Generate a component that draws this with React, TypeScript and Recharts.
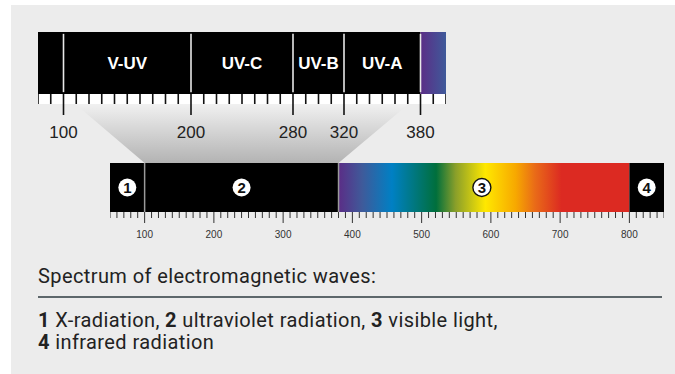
import React from 'react';
import {
  ComposedChart,
  XAxis,
  YAxis,
  ReferenceArea,
  ReferenceLine,
  Scatter,
} from 'recharts';

// Zoomed UV scale (nm)
const uvDomain = [80, 400];
const uvTicks = [80, 90, 100, 110, 120, 130, 140, 150, 160, 170, 180, 190, 200, 210, 220, 230, 240, 250, 260, 270, 280, 290, 300, 310, 320, 330, 340, 350, 360, 370, 380, 390, 400];
const uvLabelTicks = [100, 200, 280, 320, 380];
const uvBands = [
  { name: 'V-UV', from: 100, to: 200 },
  { name: 'UV-C', from: 200, to: 280 },
  { name: 'UV-B', from: 280, to: 320 },
  { name: 'UV-A', from: 320, to: 380 },
];
const uvVisibleEdge = [380, 400];

// Full spectrum scale (nm)
const fullDomain = [50, 850];
const fullLabelTicks = [100, 200, 300, 400, 500, 600, 700, 800];
const regions = [
  { id: 1, from: 50, to: 100, mid: 75 },
  { id: 2, from: 100, to: 380, mid: 240 },
  { id: 3, from: 380, to: 800, mid: 587 },
  { id: 4, from: 800, to: 850, mid: 825 },
];
const regionBorders = [100, 380];
const zoomRange = [100, 380];

// visible light gradient stops
const spectrumNm = [380, 414, 457, 521, 549, 592, 636, 664, 702, 800];
const spectrumColors = ['#5b2d86', '#3f5a9a', '#0080c4', '#006f3c', '#8a9f2a', '#ffe800', '#f7a800', '#e96a18', '#dc2a22', '#dc2a22'];

// layout (px)
const TOP = { left: 38, top: 32, width: 408, bar: 62, axis: 69 };
const BOT = { left: 110, top: 163, width: 554, bar: 49, axis: 31 };

const fullTicks: number[] = [];
for (let v = fullDomain[0]; v <= fullDomain[1]; v += 10) fullTicks.push(v);

const SANS = '"Liberation Sans", Arial, sans-serif';

// same linear mapping recharts uses for the lower axis, relative to the top chart
const fullScaleX = (v: number) =>
  BOT.left + ((v - fullDomain[0]) / (fullDomain[1] - fullDomain[0])) * BOT.width - TOP.left;

const UvTick = (props: any) => {
  const { x, y, payload } = props;
  const major = uvLabelTicks.includes(payload.value);
  return (
    <g>
      <line x1={x} x2={x} y1={y} y2={y + (major ? 21 : 10)} stroke="#111" strokeWidth={1.6} />
      {major && (
        <text x={x} y={y + 44} textAnchor="middle" fontSize={17} fill="#222" fontFamily={SANS}>
          {payload.value}
        </text>
      )}
    </g>
  );
};

const FullTick = (props: any) => {
  const { x, y, payload } = props;
  const major = fullLabelTicks.includes(payload.value);
  return (
    <g>
      <line x1={x} x2={x} y1={y} y2={y + (major ? 11 : 6)} stroke="#333" strokeWidth={1} />
      {major && (
        <text x={x} y={y + 26} textAnchor="middle" fontSize={10} fill="#333" fontFamily={SANS}>
          {payload.value}
        </text>
      )}
    </g>
  );
};

// connector from the zoomed scale down to the full scale
const Connector = (props: any) => {
  const { x, y, width, height } = props;
  const yt = y + height;
  const yb = yt + TOP.axis;
  const pts = [
    [x, yt],
    [x + width, yt],
    [fullScaleX(zoomRange[1]), yb],
    [fullScaleX(zoomRange[0]), yb],
  ]
    .map((p) => p.join(','))
    .join(' ');
  return <polygon points={pts} fill="url(#connFade)" />;
};

const TickStrip = (props: any) => {
  const { x, y, width, height } = props;
  return <rect x={x} y={y + height} width={width} height={10} fill="#ffffff" />;
};

const RegionMarker = (props: any) => {
  const { cx, cy, payload } = props;
  return (
    <g>
      <circle cx={cx} cy={cy} r={9} fill="#fff" stroke={payload.id === 3 ? '#111' : 'none'} strokeWidth={1.4} />
      <text x={cx} y={cy + 5.5} textAnchor="middle" fontSize={15} fontWeight={700} fill="#111" fontFamily={SANS}>
        {payload.id}
      </text>
    </g>
  );
};

const markerData = regions.map((r) => ({ x: r.mid, y: 0.5, id: r.id }));
const uvBandData = uvBands.map((b) => ({ x: (b.from + b.to) / 2, y: 0.5, name: b.name }));

export default function App() {
  return (
    <div style={{ position: 'relative', width: 675, height: 374, background: '#fff', overflow: 'hidden' }}>
      <style>{'body{margin:0}'}</style>
      <div style={{ position: 'absolute', left: 11, top: 5, width: 664, height: 369, background: '#ececec' }} />

      <div style={{ position: 'absolute', left: TOP.left, top: TOP.top }}>
        <ComposedChart width={TOP.width} height={TOP.bar + TOP.axis} data={uvBandData} margin={{ top: 0, right: 0, bottom: 0, left: 0 }} style={{ overflow: 'visible' }}>
          <defs>
            <linearGradient id="connFade" x1="0" y1="0" x2="0" y2="1">
              <stop offset="0%" stopColor="#fbfbfb" />
              <stop offset="100%" stopColor="#b3b3b3" />
            </linearGradient>
            <linearGradient id="uvEdge" x1="0" y1="0" x2="1" y2="0">
              <stop offset="0%" stopColor="#5b2d86" />
              <stop offset="100%" stopColor="#3f5a9a" />
            </linearGradient>
          </defs>
          <XAxis
            type="number"
            dataKey="x"
            domain={uvDomain}
            ticks={uvTicks}
            interval={0}
            height={TOP.axis}
            axisLine={false}
            tickLine={false}
            tickSize={0}
            tickMargin={0}
            tick={<UvTick />}
          />
          <YAxis type="number" dataKey="y" domain={[0, 1]} hide />
          <ReferenceArea x1={zoomRange[0]} x2={zoomRange[1]} y1={0} y2={1} shape={<Connector />} />
          <ReferenceArea x1={uvDomain[0]} x2={uvDomain[1]} y1={0} y2={1} shape={<TickStrip />} />
          <ReferenceArea x1={uvDomain[0]} x2={uvVisibleEdge[0]} y1={0} y2={1} fill="#000" fillOpacity={1} />
          <ReferenceArea x1={uvVisibleEdge[0]} x2={uvVisibleEdge[1]} y1={0} y2={1} fill="url(#uvEdge)" fillOpacity={1} />
          {uvBands.map((b) => (
            <ReferenceArea
              key={b.name}
              x1={b.from}
              x2={b.to}
              y1={0}
              y2={1}
              fillOpacity={0}
              label={{ value: b.name, position: 'center', fill: '#fff', fontSize: 17, fontWeight: 700, fontFamily: SANS }}
            />
          ))}
          {uvLabelTicks.map((v) => (
            <ReferenceLine
              key={v}
              segment={[{ x: v, y: 0.03 }, { x: v, y: 0.97 }]}
              stroke="#e8e8e8"
              strokeWidth={1.6}
            />
          ))}
        </ComposedChart>
      </div>

      <div style={{ position: 'absolute', left: BOT.left, top: BOT.top }}>
        <ComposedChart width={BOT.width} height={BOT.bar + BOT.axis} data={markerData} margin={{ top: 0, right: 0, bottom: 0, left: 0 }}>
          <defs>
            <linearGradient id="spectrum" x1="0" y1="0" x2="1" y2="0">
              {spectrumNm.map((nm, i) => (
                <stop key={nm} offset={`${((nm - 380) / (800 - 380)) * 100}%`} stopColor={spectrumColors[i]} />
              ))}
            </linearGradient>
          </defs>
          <XAxis
            type="number"
            dataKey="x"
            domain={fullDomain}
            ticks={fullTicks}
            interval={0}
            height={BOT.axis}
            axisLine={false}
            tickLine={false}
            tickSize={0}
            tickMargin={0}
            tick={<FullTick />}
          />
          <YAxis type="number" dataKey="y" domain={[0, 1]} hide />
          {regions.map((r) => (
            <ReferenceArea
              key={r.id}
              x1={r.from}
              x2={r.to}
              y1={0}
              y2={1}
              fill={r.id === 3 ? 'url(#spectrum)' : '#000'}
              fillOpacity={1}
            />
          ))}
          {regionBorders.map((v) => (
            <ReferenceLine key={v} x={v} stroke="#9a9a9a" strokeWidth={1.5} />
          ))}
          <Scatter data={markerData} dataKey="y" shape={<RegionMarker />} isAnimationActive={false} />
        </ComposedChart>
      </div>

      <div style={{ position: 'absolute', left: 38, top: 265, width: 624, fontFamily: 'Roboto, sans-serif', color: '#222', fontSize: 20, letterSpacing: 0.4, lineHeight: '22px' }}>
        <div>Spectrum of electromagnetic waves:</div>
        <div style={{ height: 2, background: '#5d676b', marginTop: 9, marginBottom: 11 }} />
        <div>
          <b>1</b> X-radiation, <b>2</b> ultraviolet radiation, <b>3</b> visible light,
        </div>
        <div>
          <b>4</b> infrared radiation
        </div>
      </div>
    </div>
  );
}
